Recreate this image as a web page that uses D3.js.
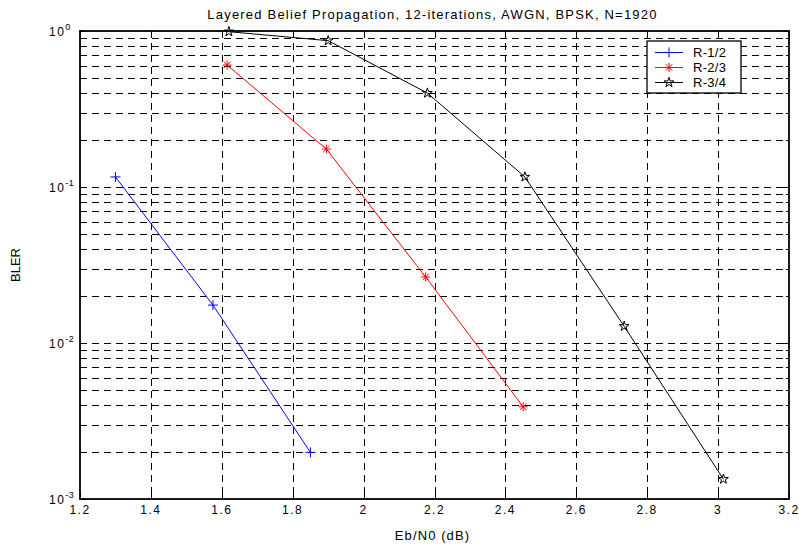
<!DOCTYPE html>
<html>
<head>
<meta charset="utf-8">
<script src="https://cdn.jsdelivr.net/npm/d3@7"></script>
<style>
  body { margin: 0; background: #fff; }
  text { font-family: "Liberation Sans", Arial, sans-serif; fill: #000; }
</style>
</head>
<body>
<div id="chart"></div>
<script>
// data
var seriesNames = ["R-1/2", "R-2/3", "R-3/4"];
var seriesColors = ["#0000ff", "#ff0000", "#000000"];
var seriesMarkers = ["plus", "asterisk", "star"];

var ebn0_r12 = [1.30, 1.575, 1.85];
var bler_r12 = [0.116, 0.0175, 0.00199];

var ebn0_r23 = [1.615, 1.895, 2.175, 2.45];
var bler_r23 = [0.605, 0.175, 0.0265, 0.0039];

var ebn0_r34 = [1.62, 1.90, 2.18, 2.455, 2.735, 3.015];
var bler_r34 = [0.99, 0.867, 0.40, 0.116, 0.0128, 0.00134];

var xTicks = [1.2, 1.4, 1.6, 1.8, 2, 2.2, 2.4, 2.6, 2.8, 3, 3.2];
var yDecades = [0, -3, -2, -1];

var titleText = "Layered Belief Propagation, 12-iterations, AWGN, BPSK, N=1920";
var xLabel = "Eb/N0 (dB)";
var yLabel = "BLER";

var W = 799, H = 548;
var margin = {top: 31, right: 10, bottom: 49, left: 80},
    width = W - margin.left - margin.right,
    height = H - margin.top - margin.bottom;

var svg = d3.select("#chart")
            .append("svg")
                .attr("width", W)
                .attr("height", H);

var g = svg.append("g")
           .attr("transform", "translate(" + margin.left + "," + margin.top + ")");

var x = d3.scaleLinear().domain([1.2, 3.2]).range([0, width]);
var y = d3.scaleLog().domain([1e-3, 1]).range([height, 0]);

// minor log values (1..9 x 10^k)
var minorVals = [];
for (var k = -3; k < 0; k++) {
    for (var m = 1; m <= 9; m++) {
        minorVals.push(m * Math.pow(10, k));
    }
}
minorVals.push(1);

// grid: horizontal at every log minor, vertical at every x tick
g.append("g").selectAll("line")
    .data(minorVals.filter(function(v) { return v > 1e-3 && v < 1; }))
    .enter().append("line")
        .attr("x1", 0).attr("x2", width)
        .attr("y1", function(d) { return Math.round(y(d)) + 0.5; })
        .attr("y2", function(d) { return Math.round(y(d)) + 0.5; })
        .attr("stroke", "#000")
        .attr("stroke-width", 1)
        .attr("stroke-dasharray", "7,5");

g.append("g").selectAll("line")
    .data(xTicks.slice(1, -1))
    .enter().append("line")
        .attr("y1", 0).attr("y2", height)
        .attr("x1", function(d) { return Math.round(x(d)) + 0.5; })
        .attr("x2", function(d) { return Math.round(x(d)) + 0.5; })
        .attr("stroke", "#000")
        .attr("stroke-width", 1)
        .attr("stroke-dasharray", "7,5");

// ticks inside the box, all four sides
var tk = g.append("g").attr("stroke", "#000").attr("stroke-width", 1);
xTicks.forEach(function(t) {
    var px = Math.round(x(t)) + 0.5;
    tk.append("line").attr("x1", px).attr("x2", px).attr("y1", height).attr("y2", height - 6);
    tk.append("line").attr("x1", px).attr("x2", px).attr("y1", 0).attr("y2", 6);
});
minorVals.forEach(function(v) {
    var py = Math.round(y(v)) + 0.5;
    var isMajor = Math.abs(Math.log10(v) - Math.round(Math.log10(v))) < 1e-9;
    var len = isMajor ? 6 : 3;
    tk.append("line").attr("x1", 0).attr("x2", len).attr("y1", py).attr("y2", py);
    tk.append("line").attr("x1", width).attr("x2", width - len).attr("y1", py).attr("y2", py);
});

// box
g.append("rect")
    .attr("x", 0).attr("y", 0)
    .attr("width", width).attr("height", height)
    .attr("fill", "none")
    .attr("stroke", "#000")
    .attr("stroke-width", 1.8);

// x tick labels
g.append("g").selectAll("text")
    .data(xTicks)
    .enter().append("text")
        .attr("x", function(d) { return x(d); })
        .attr("y", height + 15)
        .attr("text-anchor", "middle")
        .style("font-size", "12px")
        .style("letter-spacing", "1.5px")
        .text(function(d) { return d3.format("")(d); });

// y tick labels 10^k
var yl = g.append("g").selectAll("text")
    .data(yDecades)
    .enter().append("text")
        .attr("x", -31)
        .attr("y", function(d) { return y(Math.pow(10, d)) + 5; })
        .attr("text-anchor", "start")
        .style("font-size", "12px")
        .style("letter-spacing", "1.5px");
yl.append("tspan").text("10");
yl.append("tspan")
    .attr("dy", -6)
    .style("font-size", "9px")
    .style("letter-spacing", "0.5px")
    .text(function(d) { return d; });

// titles
svg.append("text")
    .attr("x", margin.left + width / 2 - 2)
    .attr("y", 19)
    .attr("text-anchor", "middle")
    .style("font-size", "13px")
    .style("letter-spacing", "1.2px")
    .text(titleText);

svg.append("text")
    .attr("x", margin.left + width / 2 - 2)
    .attr("y", 540)
    .attr("text-anchor", "middle")
    .style("font-size", "13px")
    .style("letter-spacing", "1.1px")
    .text(xLabel);

svg.append("text")
    .attr("transform", "translate(19.5," + (margin.top + height / 2) + ") rotate(-90)")
    .attr("text-anchor", "middle")
    .style("font-size", "13px")
    .text(yLabel);

// markers
function drawMarker(sel, type, color, cx, cy) {
    if (type === "plus") {
        sel.append("path")
            .attr("d", "M" + (cx - 5) + "," + cy + "H" + (cx + 5) + "M" + cx + "," + (cy - 5) + "V" + (cy + 5))
            .attr("stroke", color).attr("fill", "none").attr("stroke-width", 1);
    } else if (type === "asterisk") {
        var r = 4.5, d = r * 0.72;
        sel.append("path")
            .attr("d", "M" + (cx - r) + "," + cy + "H" + (cx + r) +
                       "M" + cx + "," + (cy - r) + "V" + (cy + r) +
                       "M" + (cx - d) + "," + (cy - d) + "L" + (cx + d) + "," + (cy + d) +
                       "M" + (cx - d) + "," + (cy + d) + "L" + (cx + d) + "," + (cy - d))
            .attr("stroke", color).attr("fill", "none").attr("stroke-width", 1);
    } else {
        sel.append("path")
            .attr("d", d3.symbol(d3.symbolStar).size(30)())
            .attr("transform", "translate(" + cx + "," + cy + ")")
            .attr("stroke", color).attr("fill", "none").attr("stroke-width", 1);
    }
}

var allX = [ebn0_r12, ebn0_r23, ebn0_r34];
var allY = [bler_r12, bler_r23, bler_r34];

var line = d3.line()
    .x(function(d) { return x(d[0]); })
    .y(function(d) { return y(d[1]); });

for (var s = 0; s < 3; s++) {
    var pts = allX[s].map(function(v, i) { return [v, allY[s][i]]; });
    g.append("path")
        .datum(pts)
        .attr("d", line)
        .attr("fill", "none")
        .attr("stroke", seriesColors[s])
        .attr("stroke-width", 1);
    var mg = g.append("g");
    for (var i = 0; i < pts.length; i++) {
        drawMarker(mg, seriesMarkers[s], seriesColors[s], x(pts[i][0]), y(pts[i][1]));
    }
}

// legend
var lg = svg.append("g").attr("transform", "translate(647,41)");
lg.append("rect")
    .attr("x", 0).attr("y", 0)
    .attr("width", 94).attr("height", 52)
    .attr("fill", "#fff")
    .attr("stroke", "#000")
    .attr("stroke-width", 1.3);
seriesNames.forEach(function(name, i) {
    var ly = 11.5 + i * 15;
    lg.append("line")
        .attr("x1", 8).attr("x2", 36)
        .attr("y1", ly).attr("y2", ly)
        .attr("stroke", seriesColors[i])
        .attr("stroke-width", 1);
    drawMarker(lg, seriesMarkers[i], seriesColors[i], 22, ly);
    lg.append("text")
        .attr("x", 46)
        .attr("y", ly + 4.5)
        .style("font-size", "13px")
        .style("letter-spacing", "0.3px")
        .text(name);
});
</script>
</body>
</html>
